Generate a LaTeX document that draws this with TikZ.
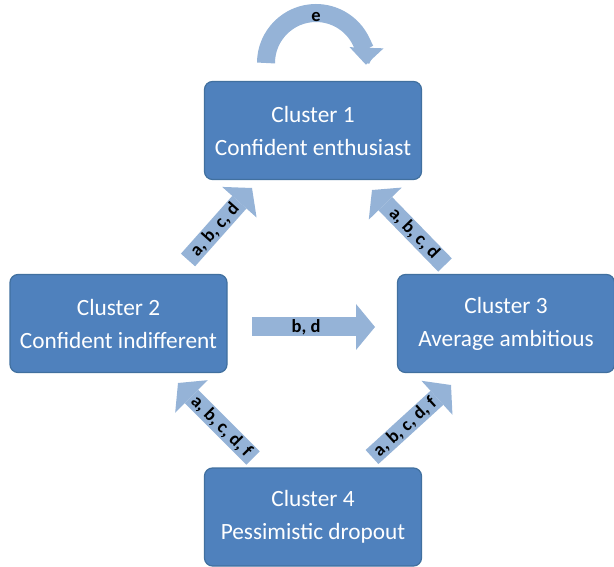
\documentclass[tikz,border=0pt]{standalone}
\usepackage{fontspec}
\setmainfont{Carlito}
\usetikzlibrary{arrows.meta}
\definecolor{boxblue}{HTML}{4F81BD}
\definecolor{boxedge}{HTML}{41709F}
\definecolor{arrowblue}{HTML}{95B3D7}
\tikzset{
  cluster/.style={draw=boxedge, line width=1.2pt, fill=boxblue, rounded corners=8pt,
    minimum width=217pt, minimum height=98pt, inner sep=0pt, text=white,
    font=\fontsize{23.3}{33}\selectfont, align=center},
  fatarrow/.style={draw=arrowblue, line width=19pt,
    -{Triangle[width=46pt,length=19pt,line width=0pt]}},
  arrlabel/.style={font=\fontsize{18.5}{20}\selectfont\bfseries, text=black, inner sep=0pt}
}
\begin{document}
\begin{tikzpicture}[x=1pt,y=1pt]
\useasboundingbox (0,0) rectangle (614,566);
\node[cluster] (c1) at (313,435.5) {Cluster 1\\Confident enthusiast};
\node[cluster] (c2) at (118.5,242.5) {Cluster 2\\Confident indifferent};
\node[cluster] (c3) at (506,242.5) {Cluster 3\\Average ambitious};
\node[cluster] (c4) at (313,49) {Cluster 4\\Pessimistic dropout};
% arrow end points
\coordinate (t1) at (188,306); \coordinate (h1) at (252,378);
\coordinate (t2) at (445,301); \coordinate (h2) at (372,376);
\coordinate (t3) at (253,108); \coordinate (h3) at (178,183);
\coordinate (t4) at (372,109); \coordinate (h4) at (451,181);
\coordinate (t5) at (252,239); \coordinate (h5) at (375,239);
\coordinate (te) at (266,503);
\draw[fatarrow] (t1) -- (h1) node[arrlabel, pos=0.42, sloped] {a, b, c, d};
\draw[fatarrow] (t2) -- (h2) node[arrlabel, pos=0.42, sloped] {a, b, c, d};
\draw[fatarrow] (t3) -- (h3) node[arrlabel, pos=0.42, sloped] {a, b, c, d, f};
\draw[fatarrow] (t4) -- (h4) node[arrlabel, pos=0.42, sloped] {a, b, c, d, f};
\draw[fatarrow] (t5) -- (h5) node[arrlabel, pos=0.44] {b, d};
\draw[draw=arrowblue, line width=18pt, -{Triangle[width=34pt,length=17pt,line width=0pt]}]
  (te) arc[start angle=180, end angle=-2, radius=50pt];
\node[arrlabel] (le) at (316,549) {e};
\end{tikzpicture}
\end{document}
